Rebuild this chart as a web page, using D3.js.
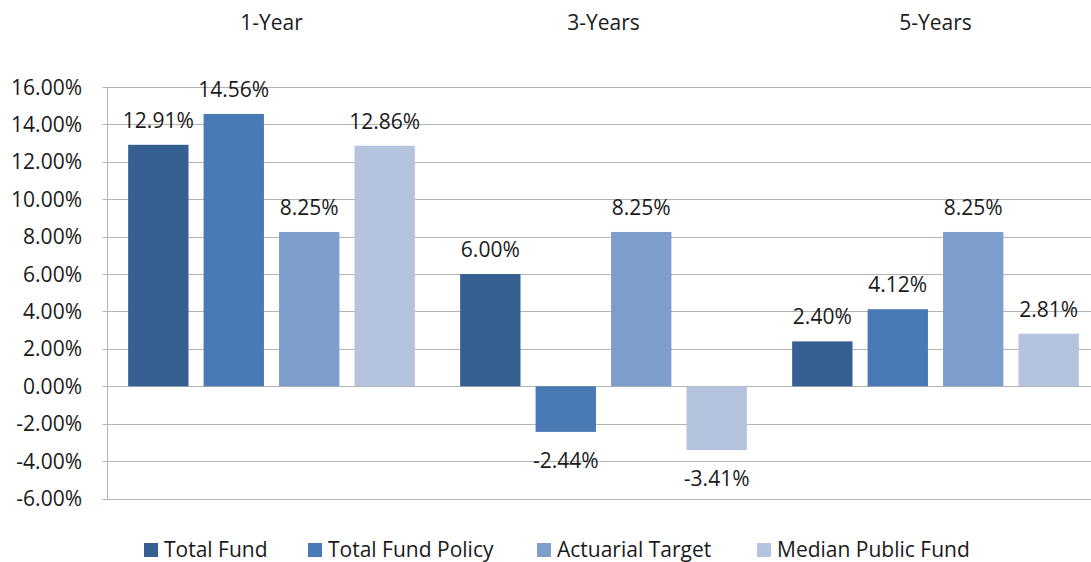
<!DOCTYPE html>
<html>
<head>
<meta charset="utf-8">
<script src="https://cdn.jsdelivr.net/npm/d3@7"></script>
<style>
  body { margin: 0; background: #fff; }
  svg { display: block; font-family: "Open Sans", sans-serif; }
</style>
</head>
<body>
<div id="chart"></div>
<script>
const width = 1091;
const height = 562;

// chart data
const periods = ["1-Year", "3-Years", "5-Years"];
const series = ["Total Fund", "Total Fund Policy", "Actuarial Target", "Median Public Fund"];
const totalFund = [12.91, 6.00, 2.40];
const totalFundPolicy = [14.56, -2.44, 4.12];
const actuarialTarget = [8.25, 8.25, 8.25];
const medianPublicFund = [12.86, -3.41, 2.81];
const yTicks = [-6, -4, -2, 0, 2, 4, 6, 8, 10, 12, 14, 16];
const colors = ["#376092", "#4a7ab5", "#7d9dcb", "#b4c4df"];

const seriesValues = [totalFund, totalFundPolicy, actuarialTarget, medianPublicFund];

// plain hyphen for negatives, like the source
const pct = v => v.toFixed(2) + "%";

const svg = d3.select("#chart")
  .append("svg")
  .attr("width", width)
  .attr("height", height);

// scales
const x0 = d3.scaleBand()
  .domain(periods)
  .range([105.5, 1101.5]);

const x1 = d3.scaleBand()
  .domain(series)
  .range([0, x0.bandwidth()])
  .paddingInner(0.2)
  .paddingOuter(0.3);

const y = d3.scaleLinear()
  .domain([-6, 16])
  .range([498.5, 87]);

const color = d3.scaleOrdinal()
  .domain(series)
  .range(colors);

const axisX = 107.5;

// gridlines
svg.append("g")
  .selectAll("line")
  .data(yTicks)
  .enter()
  .append("line")
  .attr("x1", axisX - 5)
  .attr("x2", width)
  .attr("y1", d => Math.round(y(d)) + 0.5)
  .attr("y2", d => Math.round(y(d)) + 0.5)
  .attr("stroke", "#b3b3b3")
  .attr("stroke-width", 1);

// left axis line
svg.append("line")
  .attr("x1", axisX)
  .attr("x2", axisX)
  .attr("y1", y(16))
  .attr("y2", Math.round(y(-6)) + 0.5)
  .attr("stroke", "#b3b3b3");

// y tick labels
svg.append("g")
  .selectAll("text")
  .data(yTicks)
  .enter()
  .append("text")
  .attr("x", 82)
  .attr("y", d => y(d) + 7.5)
  .attr("text-anchor", "end")
  .attr("fill", "#1a1a1a")
  .style("font-size", "21px")
  .text(d => pct(d));

// category labels at top
svg.append("g")
  .selectAll("text")
  .data(periods)
  .enter()
  .append("text")
  .attr("x", d => x0(d) + x0.bandwidth() / 2)
  .attr("y", 30)
  .attr("text-anchor", "middle")
  .attr("fill", "#1a1a1a")
  .style("font-size", "21px")
  .text(d => d);

// flatten into bar records
const bars = [];
periods.forEach((p, i) => {
  series.forEach((s, j) => {
    bars.push({ period: p, key: s, value: seriesValues[j][i] });
  });
});

const groups = svg.append("g");

groups.selectAll("rect")
  .data(bars)
  .enter()
  .append("rect")
  .attr("x", d => x0(d.period) + x1(d.key))
  .attr("width", x1.bandwidth())
  .attr("y", d => y(Math.max(0, d.value)))
  .attr("height", d => Math.abs(y(d.value) - y(0)))
  .attr("fill", d => color(d.key));

// value labels
groups.selectAll("text")
  .data(bars)
  .enter()
  .append("text")
  .attr("x", d => x0(d.period) + x1(d.key) + x1.bandwidth() / 2)
  .attr("y", d => d.value >= 0 ? y(d.value) - 17 : y(d.value) + 36)
  .attr("text-anchor", "middle")
  .attr("fill", "#1a1a1a")
  .style("font-size", "21px")
  .text(d => pct(d.value));

// legend
const legendX = [144, 308, 537, 757];
const legend = svg.append("g")
  .selectAll("g")
  .data(series)
  .enter()
  .append("g")
  .attr("transform", (d, i) => `translate(${legendX[i]},543)`);

legend.append("rect")
  .attr("width", 14)
  .attr("height", 14)
  .attr("fill", d => color(d));

legend.append("text")
  .attr("x", 20)
  .attr("y", 14)
  .attr("fill", "#1a1a1a")
  .style("font-size", "21px")
  .text(d => d);
</script>
</body>
</html>
